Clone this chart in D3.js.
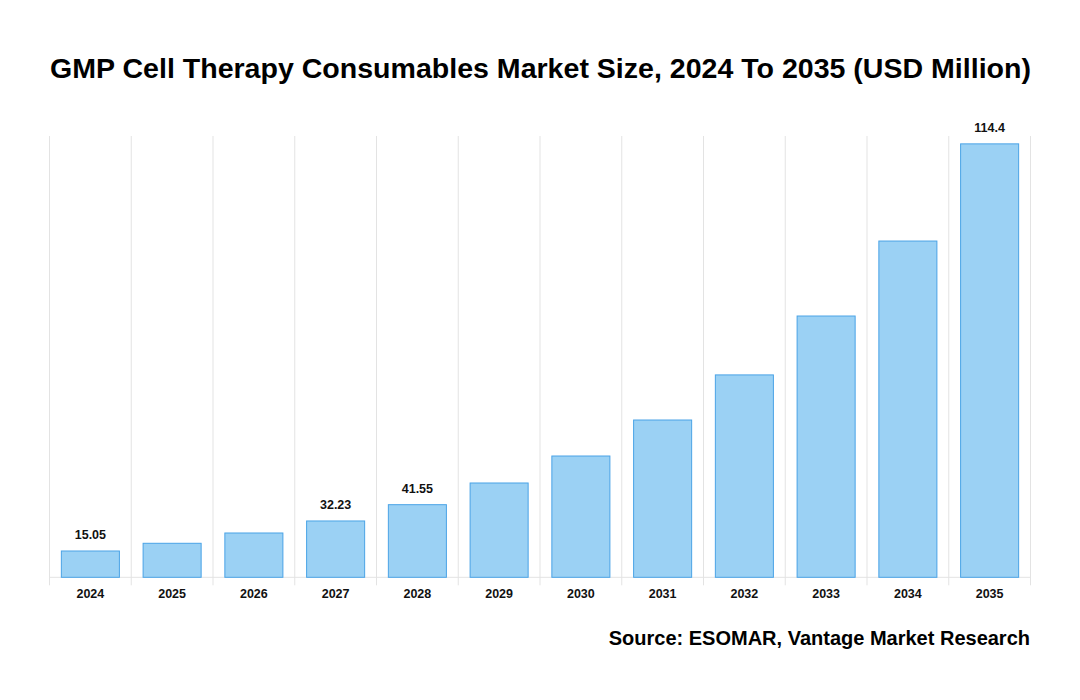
<!DOCTYPE html>
<html><head><meta charset="utf-8">
<script src="https://cdn.jsdelivr.net/npm/d3@7"></script>
<style>body{margin:0;background:#fff;font-family:"Liberation Sans",Arial,sans-serif;}</style>
</head><body><svg id="c" width="1080" height="700"></svg>
<script>
const years = ["2024","2025","2026","2027","2028","2029","2030","2031","2032","2033","2034","2035"];
const values = [15.05,19.46,25.35,32.23,41.55,53.96,69.4,90.0,115.8,149.5,192.4,248.0];
const labels = ["15.05","","","32.23","41.55","","","","","","","114.4"];

const svg = d3.select("#c");
const m = {l:49.5, r:1030.5, t:136, b:577.3};
const x = d3.scaleBand().domain(years).range([m.l, m.r]).paddingInner(0.29).paddingOuter(0.145);
const y = d3.scaleLinear().domain([0, 252.5]).range([m.b, m.t]);
const step = x.step();

svg.append("text").attr("x",540.5).attr("y",78).attr("text-anchor","middle")
  .attr("font-size",28.55).attr("font-weight","bold").attr("fill","#000")
  .text("GMP Cell Therapy Consumables Market Size, 2024 To 2035 (USD Million)");

const bounds = years.map((d,i)=>m.l + i*step).concat([m.l + years.length*step]);
svg.selectAll("line.g").data(bounds).enter().append("line")
  .attr("x1",d=>d).attr("x2",d=>d).attr("y1",m.t).attr("y2",m.b+8)
  .attr("stroke","#e3e3e3").attr("stroke-width",1);
svg.append("line").attr("x1",m.l).attr("x2",m.r).attr("y1",m.b).attr("y2",m.b)
  .attr("stroke","#e3e3e3");

svg.selectAll("rect.b").data(years).enter().append("rect")
  .attr("x",d=>x(d)).attr("width",x.bandwidth())
  .attr("y",(d,i)=>y(values[i])).attr("height",(d,i)=>m.b - y(values[i]))
  .attr("fill","#9bd1f4").attr("stroke","#4aa3e6").attr("stroke-width",1);

svg.selectAll("text.v").data(years).enter().append("text")
  .attr("x",d=>x(d)+x.bandwidth()/2).attr("y",(d,i)=>y(values[i])-12)
  .attr("text-anchor","middle").attr("font-size",12.5).attr("font-weight","bold").attr("fill","#111")
  .text((d,i)=>labels[i]);

const ax = svg.append("g").attr("transform",`translate(0,${m.b})`)
  .call(d3.axisBottom(x).tickSize(0).tickPadding(12));
ax.select(".domain").remove();
ax.selectAll("text").attr("font-size",12.5).attr("font-weight","bold").attr("fill","#111")
  .attr("font-family","'Liberation Sans',Arial,sans-serif");

svg.append("text").attr("x",1030).attr("y",645).attr("text-anchor","end")
  .attr("font-size",20).attr("font-weight","bold").attr("fill","#000")
  .text("Source: ESOMAR, Vantage Market Research");
</script></body></html>
